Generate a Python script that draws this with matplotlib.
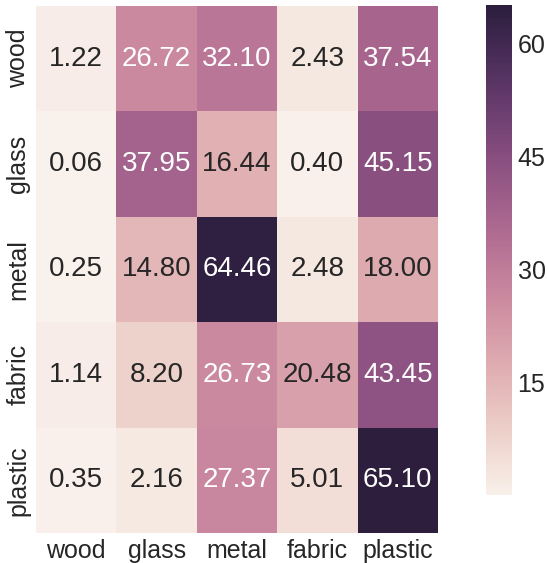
import numpy as np
import matplotlib
matplotlib.use("Agg")
import matplotlib.pyplot as plt
import seaborn as sns

# data
materials = ["wood", "glass", "metal", "fabric", "plastic"]
row_wood = [1.22, 26.72, 32.10, 2.43, 37.54]
row_glass = [0.06, 37.95, 16.44, 0.40, 45.15]
row_metal = [0.25, 14.80, 64.46, 2.48, 18.00]
row_fabric = [1.14, 8.20, 26.73, 20.48, 43.45]
row_plastic = [0.35, 2.16, 27.37, 5.01, 65.10]
cbar_ticks = [15, 30, 45, 60]

matriks = np.array([row_wood, row_glass, row_metal, row_fabric, row_plastic])

sns.set_style("white")
plt.rcParams['font.family'] = ['Liberation Sans', 'DejaVu Sans']
plt.rcParams['text.color'] = '.15'
plt.rcParams['xtick.color'] = '.15'
plt.rcParams['ytick.color'] = '.15'

fig = plt.figure(figsize=(5.48, 5.63), dpi=100)
ax = fig.add_axes([36/548, 1 - 533/563, (438-36)/548, (533-6)/563])
cax = fig.add_axes([486/548, 1 - 495/563, (512-486)/548, (495-5)/563])

cmap = sns.cubehelix_palette(light=.95, as_cmap=True)
sns.heatmap(matriks, ax=ax, cbar=False, cmap=cmap,
            annot=True, fmt=".2f", annot_kws={"fontsize": 20},
            xticklabels=materials, yticklabels=materials)

ax.tick_params(axis='both', length=0, labelsize=18, pad=4)
plt.setp(ax.get_yticklabels(), rotation=90, va="center")
plt.setp(ax.get_xticklabels(), rotation=0)

# colorbar manual
cb = fig.colorbar(ax.collections[0], cax=cax, ticks=cbar_ticks)
cb.outline.set_visible(False)
cb.solids.set_edgecolor("face")
cax.tick_params(length=0, labelsize=18, pad=4)

fig.savefig("out.png", dpi=100)
